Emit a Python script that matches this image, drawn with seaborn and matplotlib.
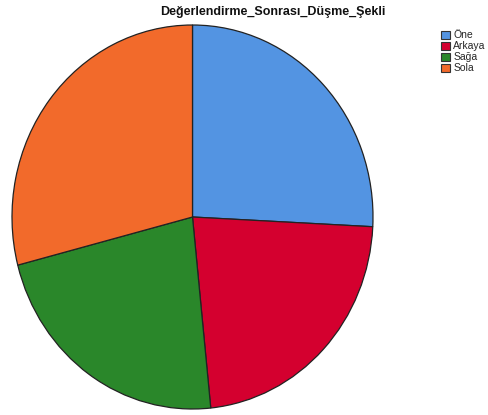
import matplotlib
matplotlib.use("Agg")
import matplotlib.pyplot as plt
import seaborn as sns
from matplotlib.patches import Patch

sns.set_style("white")
plt.rcParams["font.family"] = ["Liberation Sans", "DejaVu Sans"]

categories = ["Öne", "Arkaya", "Sağa", "Sola"]
counts = [8, 7, 7, 9]
colors = ["#5394E2", "#D4002F", "#2A872A", "#F26A2B"]
title = "Değerlendirme_Sonrası_Düşme_Şekli"

W, H = 488, 415
fig = plt.figure(figsize=(W / 100, H / 100), dpi=100)
fig.patch.set_facecolor("white")

# pie area in pixel coordinates (left, top, right, bottom)
x0, y0, x1, y1 = 12, 25, 373, 409
ax = fig.add_axes([x0 / W, (H - y1) / H, (x1 - x0) / W, (y1 - y0) / H])
wedges, _ = ax.pie(
    counts,
    colors=colors,
    startangle=90,
    counterclock=False,
    wedgeprops=dict(edgecolor="#222222", linewidth=0.9),
)
for w in wedges:
    w.set_clip_on(False)
ax.set_aspect("auto")
ax.set_xlim(-1, 1)
ax.set_ylim(-1, 1)
ax.axis("off")

fig.text(273 / W, 1 - 12 / H, title, ha="center", va="center",
         fontsize=9, fontweight="bold", color="#111111")

handles = [Patch(facecolor=c, edgecolor="#333333", linewidth=0.8) for c in colors]
fig.legend(handles, categories, loc="upper left",
           bbox_to_anchor=(434 / W, 1 - 23 / H), frameon=False,
           fontsize=7.5, handlelength=0.85, handleheight=0.85,
           handletextpad=0.3, labelspacing=0.1, borderpad=0.2)

fig.savefig("out.png", dpi=100, facecolor="white")
